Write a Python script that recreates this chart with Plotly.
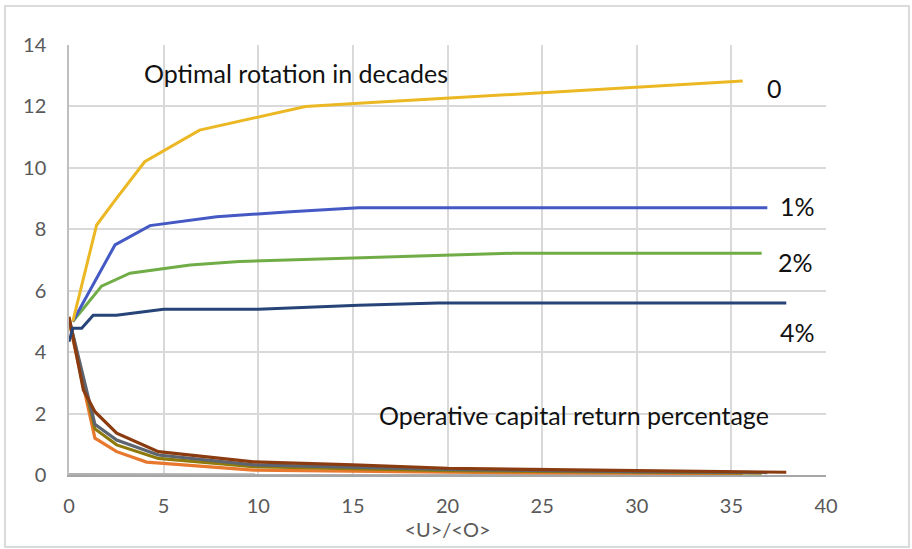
import plotly.graph_objects as go

# Optimal rotation (decades) for different interest rates
rot0_x = [0.2, 1.46, 2.5, 4.0, 6.9, 12.5, 15.3, 35.6]
rot0_y = [5.0, 8.14, 9.0, 10.2, 11.23, 12.0, 12.1, 12.83]

rot1_x = [0.2, 2.43, 4.28, 7.8, 11.7, 15.3, 36.9]
rot1_y = [5.0, 7.49, 8.12, 8.41, 8.57, 8.7, 8.7]

rot2_x = [0.2, 1.72, 3.22, 4.98, 6.4, 9.0, 12.4, 23.5, 36.6]
rot2_y = [5.0, 6.15, 6.57, 6.73, 6.84, 6.95, 7.02, 7.22, 7.22]

rot4_x = [0.0, 0.2, 0.67, 1.28, 2.5, 5.0, 10.0, 15.3, 19.5, 37.9]
rot4_y = [4.34, 4.78, 4.78, 5.2, 5.2, 5.4, 5.4, 5.53, 5.6, 5.6]

# Operative capital return percentage
ret0_x = [0.0, 35.6]
ret0_y = [0.03, 0.02]

ret_a_x = [0.0, 1.37, 2.52, 4.1, 9.74, 15.0, 20.0, 30.0, 35.6]
ret_a_y = [5.0, 1.2, 0.76, 0.42, 0.16, 0.12, 0.09, 0.06, 0.04]

ret_b_x = [0.0, 1.37, 2.52, 4.72, 9.74, 15.0, 20.0, 30.0, 36.6]
ret_b_y = [5.05, 1.5, 0.98, 0.54, 0.27, 0.2, 0.14, 0.09, 0.06]

ret_c_x = [0.0, 1.37, 2.52, 4.72, 9.74, 15.0, 20.0, 30.0, 36.9]
ret_c_y = [5.1, 1.65, 1.14, 0.65, 0.33, 0.25, 0.18, 0.11, 0.08]

ret_d_x = [0.0, 0.76, 1.37, 2.52, 4.72, 9.74, 15.0, 20.0, 30.0, 37.9]
ret_d_y = [5.15, 2.77, 2.06, 1.36, 0.76, 0.43, 0.33, 0.22, 0.14, 0.09]

x_ticks = [0, 5, 10, 15, 20, 25, 30, 35, 40]
y_ticks = [0, 2, 4, 6, 8, 10, 12, 14]

series = [
    (ret0_x, ret0_y, "#B0B0B0", 2),
    (ret_a_x, ret_a_y, "#E8782E", 3.2),
    (ret_b_x, ret_b_y, "#8E7A0A", 3.2),
    (ret_c_x, ret_c_y, "#5B6470", 3.2),
    (ret_d_x, ret_d_y, "#8A3C10", 3.2),
    (rot4_x, rot4_y, "#264478", 3),
    (rot2_x, rot2_y, "#70AD47", 3),
    (rot1_x, rot1_y, "#4459C4", 3),
    (rot0_x, rot0_y, "#EBB824", 3),
]

fig = go.Figure()
for xs, ys, col, w in series:
    fig.add_trace(go.Scatter(x=xs, y=ys, mode="lines",
                             line=dict(color=col, width=w),
                             showlegend=False, hoverinfo="skip"))

font_family = "Lato, 'Open Sans', sans-serif"
label_font = dict(family=font_family, size=25, color="#111111")

# \u200c keeps the "ti" pair from being drawn as a ligature
annotations = [
    dict(x=12.0, y=13.1, text="Optimal rota\u200ction in decades"),
    dict(x=26.7, y=1.95, text="Opera\u200ctive capital return percentage"),
    dict(x=37.3, y=12.6, text="0"),
    dict(x=38.5, y=8.75, text="1%"),
    dict(x=38.4, y=6.95, text="2%"),
    dict(x=38.5, y=4.65, text="4%"),
]
for a in annotations:
    fig.add_annotation(x=a["x"], y=a["y"], text=a["text"], showarrow=False,
                       xref="x", yref="y", font=label_font,
                       xanchor="center", yanchor="middle")

# outer chart border
fig.add_shape(type="rect", xref="paper", yref="paper",
              x0=(5 - 69) / 757, x1=(909 - 69) / 757,
              y0=(475 - 547) / 430, y1=(475 - 6) / 430,
              line=dict(color="#D0D0D0", width=1.5), layer="below")

fig.update_layout(
    width=912, height=549,
    margin=dict(l=69, r=86, t=45, b=74),
    paper_bgcolor="white", plot_bgcolor="white",
    font=dict(family=font_family, color="#595959"),
)
fig.update_xaxes(range=[0, 40], tickvals=x_ticks, ticks="",
                 showgrid=True, gridcolor="#D9D9D9", gridwidth=1.5,
                 showline=True, linecolor="#A6A6A6", linewidth=2,
                 zeroline=False, tickfont=dict(size=20, color="#595959"),
                 ticklabelstandoff=12,
                 title=dict(text="&lt;U&gt;/&lt;O&gt;", font=dict(size=20, color="#595959"),
                            standoff=0))
fig.update_yaxes(range=[0, 14], tickvals=y_ticks, ticks="",
                 showgrid=True, gridcolor="#D9D9D9", gridwidth=1.5,
                 showline=True, linecolor="#BFBFBF", linewidth=1.5,
                 zeroline=False, tickfont=dict(size=20, color="#595959"),
                 ticklabelstandoff=17)

fig.write_html("out.html")
